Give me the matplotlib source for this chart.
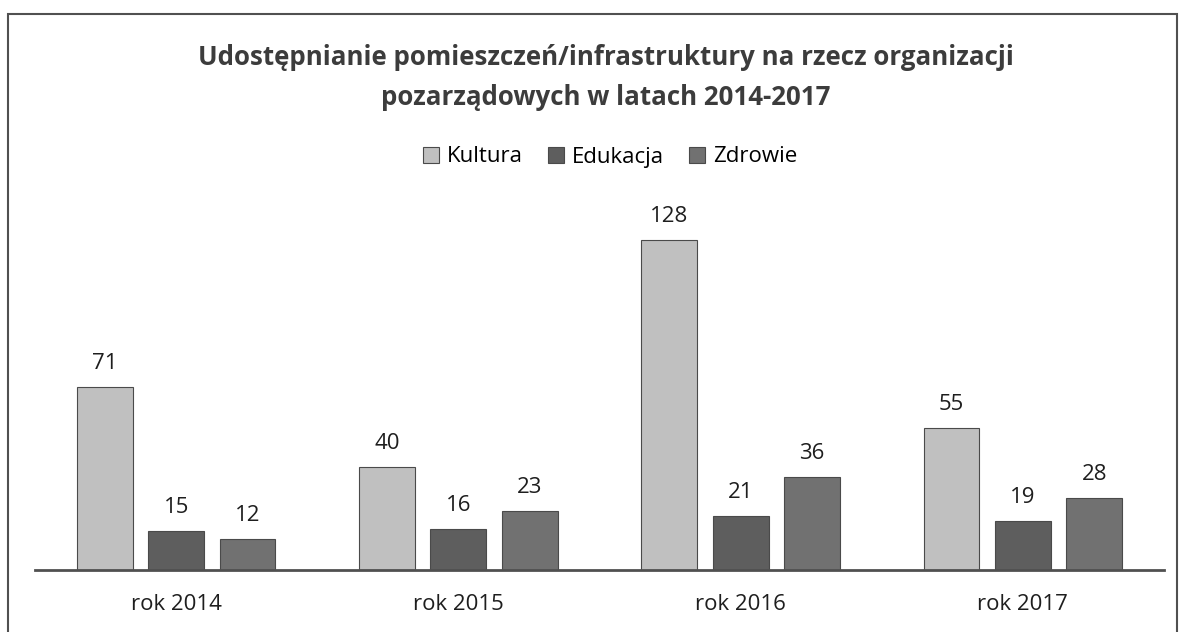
import matplotlib
matplotlib.use("Agg")
import matplotlib.pyplot as plt
import numpy as np
from matplotlib.patches import Rectangle

categories = ["rok 2014", "rok 2015", "rok 2016", "rok 2017"]
series_names = ["Kultura", "Edukacja", "Zdrowie"]
kultura = [71, 40, 128, 55]
edukacja = [15, 16, 21, 19]
zdrowie = [12, 23, 36, 28]
values = [kultura, edukacja, zdrowie]
colors = ["#c0c0c0", "#5e5e5e", "#717171"]

plt.rcParams['font.family'] = ['Open Sans', 'DejaVu Sans']

W, H = 1182, 632
fig = plt.figure(figsize=(W / 100, H / 100), dpi=100)
fig.patch.set_facecolor("white")

# frame border
fig.add_artist(Rectangle((8 / W, -0.05), (1177 - 8) / W, 1.05 - 14 / H,
                         transform=fig.transFigure, fill=False,
                         edgecolor="#505050", linewidth=1.5))

ax_left, ax_right = 35 / W, 1164 / W
base = 570
ymax = 140
ppu = (570 - 387) / 71.0
top = base - ymax * ppu
ax = fig.add_axes([ax_left, (H - base) / H, ax_right - ax_left, (base - top) / H])

x = np.arange(len(categories))
bw = 0.198
step = 0.253
for i, (name, vals, c) in enumerate(zip(series_names, values, colors)):
    pos = x + (i - 1) * step
    ax.bar(pos, vals, bw, color=c, edgecolor="#4a4a4a", linewidth=0.8, label=name)
    for p, v in zip(pos, vals):
        ax.annotate(str(v), (p, v), xytext=(0, 13), textcoords="offset points",
                    ha="center", va="baseline", fontsize=16, color="#1e1e1e")

ax.set_xlim(-0.5, len(categories) - 0.5)
ax.set_ylim(0, ymax)
ax.set_yticks([])
ax.set_xticks(x)
ax.set_xticklabels(categories, fontsize=16, color="#1e1e1e")
ax.tick_params(axis="x", length=0, pad=17)
for s in ["top", "right", "left"]:
    ax.spines[s].set_visible(False)
ax.spines["bottom"].set_color("#505050")
ax.spines["bottom"].set_linewidth(2)
ax.patch.set_alpha(0)

title_kw = dict(ha="center", va="baseline", fontsize=18.6, fontweight="bold", color="#3c3c3c")
fig.text(606 / W, 1 - 65 / H, "Udostępnianie pomieszczeń/infrastruktury na rzecz organizacji", **title_kw)
fig.text(606 / W, 1 - 105 / H, "pozarządowych w latach 2014-2017", **title_kw)

fig.legend(loc="center", bbox_to_anchor=(610 / W, 1 - 157 / H), ncol=3, frameon=False,
           fontsize=16, handlelength=0.75, handleheight=0.75, handletextpad=0.35,
           columnspacing=1.1)

fig.savefig("out.png", dpi=100)
